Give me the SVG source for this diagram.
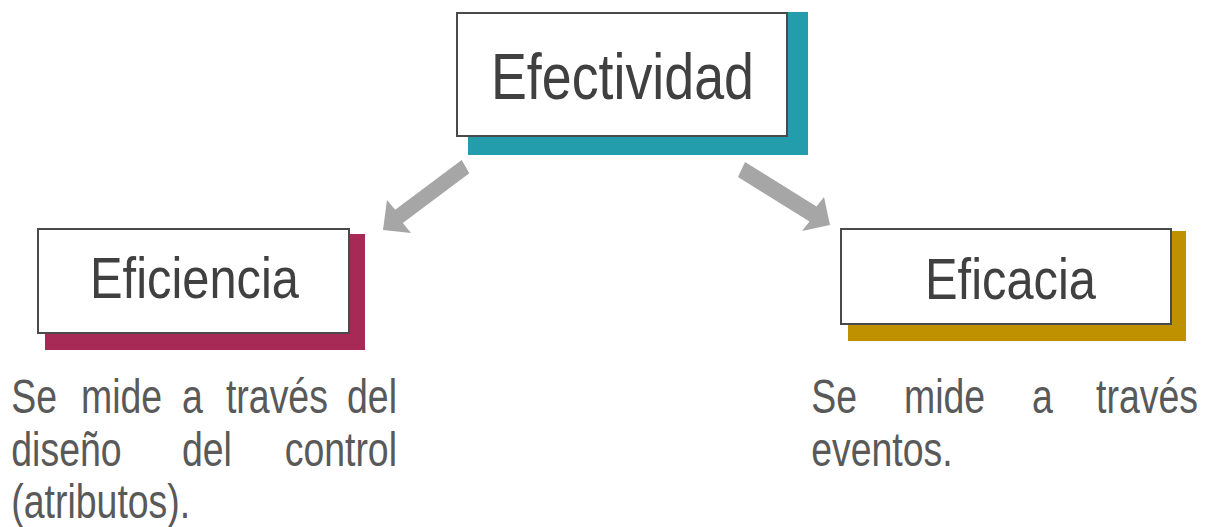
<svg xmlns="http://www.w3.org/2000/svg" width="1209" height="527" viewBox="0 0 1209 527">
<style>
.box{fill:#ffffff;stroke:#4a4a4a;stroke-width:2}
.title{font-family:"Liberation Sans",Arial,sans-serif;fill:#404040}
.body{font-family:"Liberation Sans",Arial,sans-serif;font-size:48px;fill:#595959}
.e{text-anchor:end}
.arrow{fill:#a6a6a6}
</style>
<rect width="1209" height="527" fill="#ffffff"/>
<g id="connectors">
<polygon class="arrow" points="461.7,160 469.3,173.3 402.8,223.1 411,233 383,230 387,200 395.2,209.8"/>
<polygon class="arrow" points="745,162 816.5,206.5 824,197 830,225 802,231 809.5,221.5 738,177"/>
</g>
<g id="efectividad">
<rect x="468" y="12" width="340" height="143" fill="#239dab"/>
<rect class="box" x="457" y="13" width="330" height="123"/>
<text class="title" x="491" y="99" font-size="65" textLength="263" lengthAdjust="spacingAndGlyphs">Efectividad</text>
</g>
<g id="eficiencia">
<rect x="45" y="234" width="320" height="116" fill="#a62a55"/>
<rect class="box" x="38" y="229" width="311" height="104"/>
<text class="title" x="90" y="298" font-size="57" textLength="209" lengthAdjust="spacingAndGlyphs">Eficiencia</text>
</g>
<g id="eficacia">
<rect x="848" y="231" width="338" height="110" fill="#bf9000"/>
<rect class="box" x="841" y="229" width="330" height="95"/>
<text class="title" x="925" y="299" font-size="58" textLength="171" lengthAdjust="spacingAndGlyphs">Eficacia</text>
</g>
<g id="texto-eficiencia" class="body" transform="scale(0.78,1)">
<text x="14.5" y="413">Se</text>
<text x="103.8" y="413">mide</text>
<text x="233.3" y="413">a</text>
<text x="289.7" y="413">través</text>
<text class="e" x="509" y="413">del</text>
<text x="14.5" y="466">diseño</text>
<text x="233.3" y="466">del</text>
<text class="e" x="509" y="466">control</text>
<text x="14.5" y="518">(atributos).</text>
</g>
<g id="texto-eficacia" class="body" transform="scale(0.78,1)">
<text x="1040" y="413">Se</text>
<text x="1159" y="413">mide</text>
<text x="1323.1" y="413">a</text>
<text class="e" x="1535.9" y="413">través</text>
<text x="1040" y="466">eventos.</text>
</g>
</svg>
